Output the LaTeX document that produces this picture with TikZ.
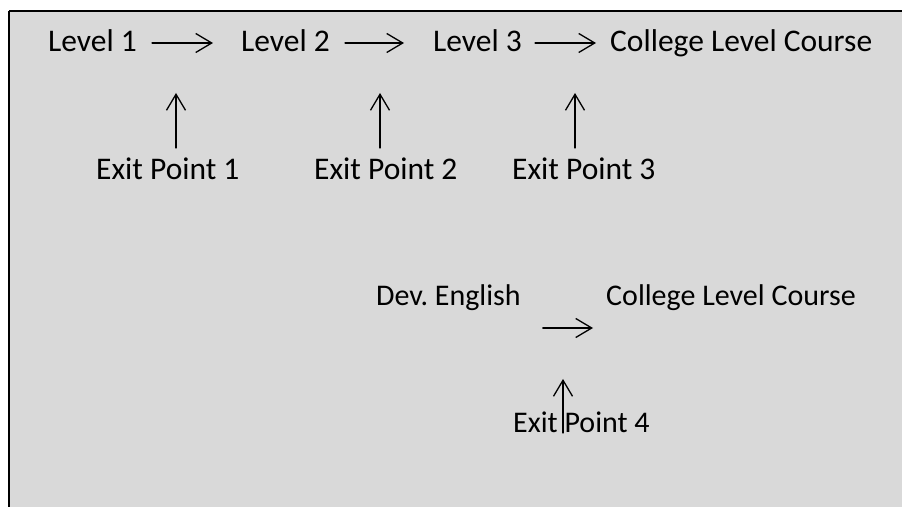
\documentclass[tikz,border=0pt]{standalone}
\usepackage{fontspec}
\setmainfont{Carlito}
\usetikzlibrary{arrows.meta}
\definecolor{bggrey}{HTML}{D9D9D9}
\frenchspacing
\begin{document}
\begin{tikzpicture}[x=1pt,y=1pt,>={Straight Barb[length=16pt,width=19pt]},line join=round,line cap=round,
		lbl/.style={inner sep=0pt,anchor=base west,font=\fontsize{31.5}{36}\selectfont},
		lblb/.style={lbl,font=\fontsize{30}{36}\selectfont},
		flow/.style={->,line width=1.3pt}]
			\useasboundingbox (0,0) rectangle (902,506);
			\fill[bggrey] (9,-5) rectangle (910,495);
			\draw[line width=2.5pt,line cap=butt] (9,-5) -- (9,495);
			\draw[line width=1.5pt,line cap=butt] (9,495) -- (910,495);
			% top row
			\node[lbl] (l1) at (48,454) {Level 1};
			\node[lbl] (l2) at (241,454) {Level 2};
			\node[lbl] (l3) at (433,454) {Level 3};
			\node[lbl] (cl1) at (610,454) {College Level Course};
			\node[lbl] (e1) at (96,326) {Exit Point 1};
			\node[lbl] (e2) at (314,326) {Exit Point 2};
			\node[lbl] (e3) at (512,326) {Exit Point 3};
			\draw[flow,shorten <=15pt,shorten >=28pt] ([yshift=9pt]l1.base east) -- ([yshift=9pt]l2.base west);
			\draw[flow,shorten <=15pt,shorten >=29pt] ([yshift=9pt]l2.base east) -- ([yshift=9pt]l3.base west);
			\draw[flow,shorten <=13pt,shorten >=14pt] ([yshift=9pt]l3.base east) -- ([yshift=9pt]cl1.base west);
			\draw[flow,shorten <=32pt] ([xshift=80pt]e1.base west) -- ++(0,87);
			\draw[flow,shorten <=32pt] ([xshift=66pt]e2.base west) -- ++(0,87);
			\draw[flow,shorten <=32pt] ([xshift=63pt]e3.base west) -- ++(0,87);
			% bottom part
			\node[lblb] (dev) at (376,200) {Dev. English};
			\node[lblb] (cl2) at (606,200) {College Level Course};
			\node[lblb] (e4) at (513,73) {Exit Point 4};
			\draw[flow] ([xshift=22pt,yshift=-22pt]dev.base east) -- ([xshift=-13pt,yshift=-22pt]cl2.base west);
			\draw[flow] ([xshift=50pt]e4.base west) -- ++(0,54);
		\end{tikzpicture}
\end{document}
